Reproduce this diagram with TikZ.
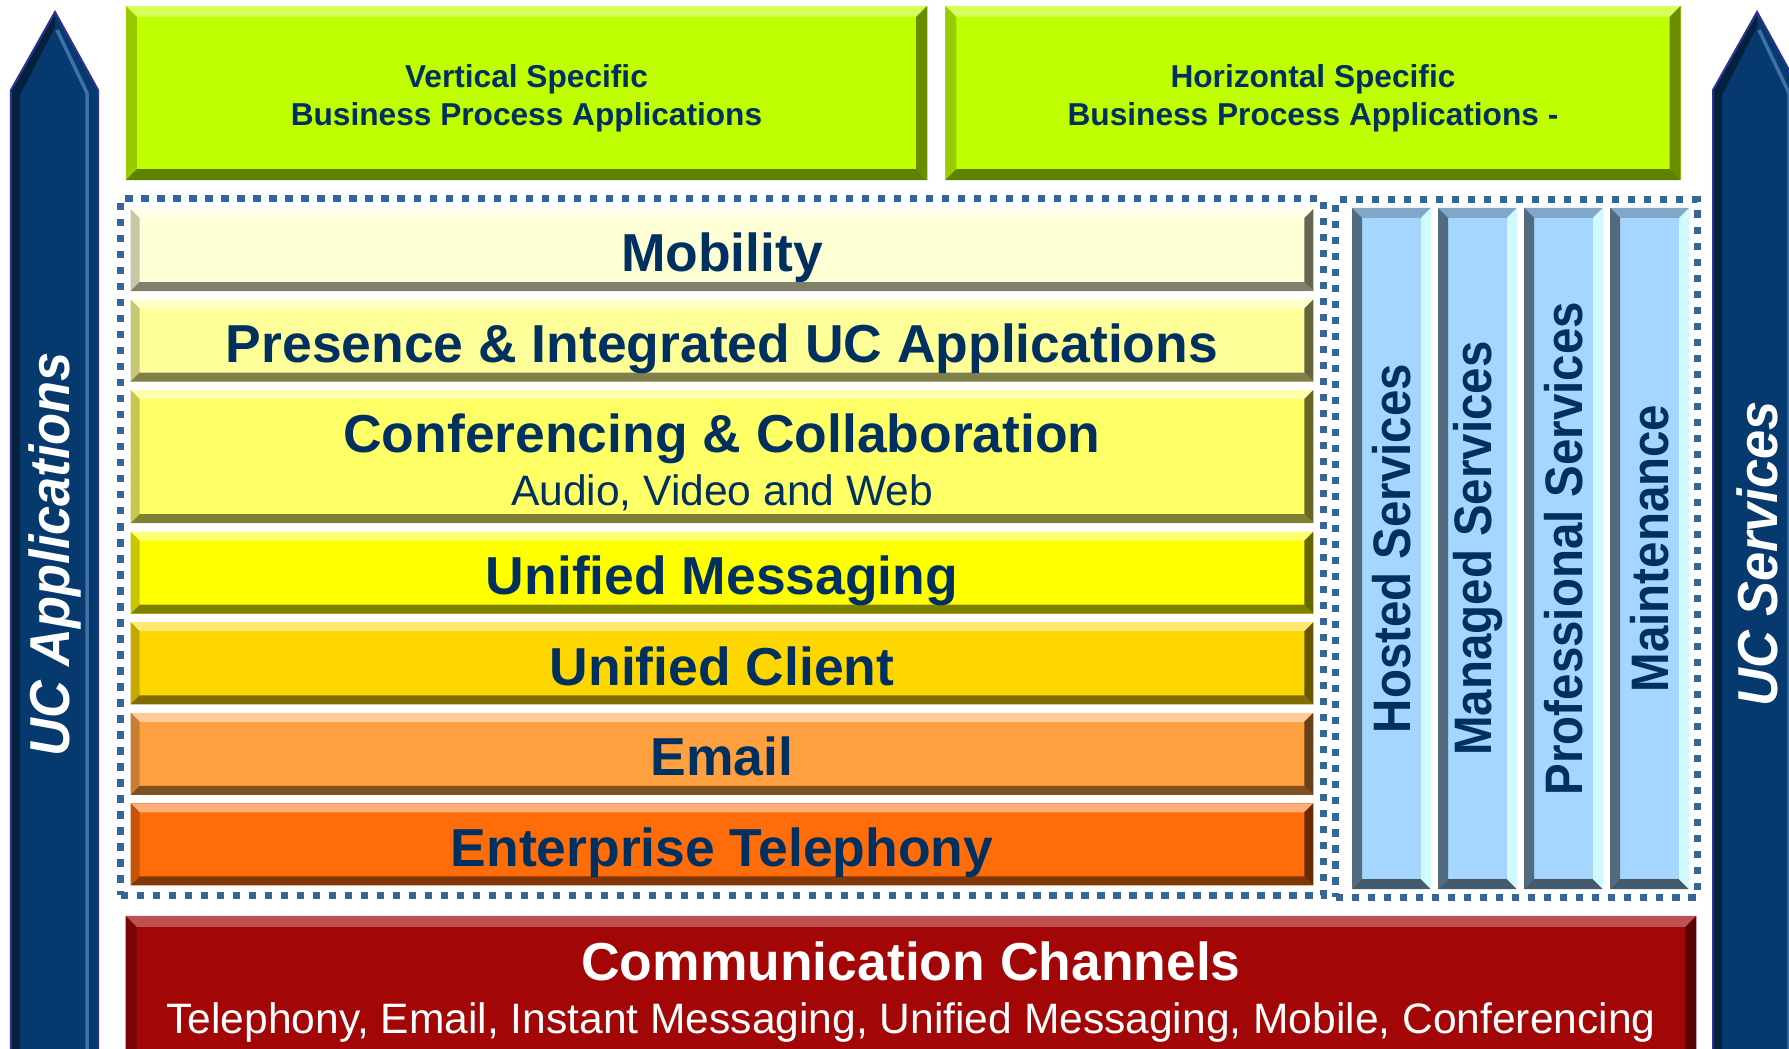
\documentclass[tikz,border=0pt]{standalone}
\usepackage{fontspec}
\setmainfont{Liberation Sans}
\usetikzlibrary{positioning,fit}

\definecolor{navy}{RGB}{0,48,96}
\definecolor{limegreen}{RGB}{191,255,0}
\definecolor{mobcol}{RGB}{255,255,213}
\definecolor{prescol}{RGB}{255,255,153}
\definecolor{confcol}{RGB}{255,255,102}
\definecolor{umcol}{RGB}{255,255,0}
\definecolor{clientcol}{RGB}{255,215,0}
\definecolor{mailcol}{RGB}{255,160,64}
\definecolor{telcol}{RGB}{255,108,10}
\definecolor{svcblue}{RGB}{164,214,255}
\definecolor{svclight}{RGB}{208,250,255}
\definecolor{chanred}{RGB}{163,6,6}
\definecolor{arrowblue}{RGB}{6,58,110}
\definecolor{arrowedge}{RGB}{46,49,146}
\definecolor{arrowlight}{RGB}{64,112,168}
\definecolor{dotblue}{RGB}{51,102,153}

% bevel: width, top, left, bottom, right
\newcommand\bevelsides[5]{%
  \fill[#2] (path picture bounding box.north west) -- (path picture bounding box.north east)
    -- ([shift={(-#1,-#1)}]path picture bounding box.north east)
    -- ([shift={(#1,-#1)}]path picture bounding box.north west) -- cycle;
  \fill[#3] (path picture bounding box.north west) -- (path picture bounding box.south west)
    -- ([shift={(#1,#1)}]path picture bounding box.south west)
    -- ([shift={(#1,-#1)}]path picture bounding box.north west) -- cycle;
  \fill[#4] (path picture bounding box.south west) -- (path picture bounding box.south east)
    -- ([shift={(-#1,#1)}]path picture bounding box.south east)
    -- ([shift={(#1,#1)}]path picture bounding box.south west) -- cycle;
  \fill[#5] (path picture bounding box.north east) -- (path picture bounding box.south east)
    -- ([shift={(-#1,#1)}]path picture bounding box.south east)
    -- ([shift={(-#1,-#1)}]path picture bounding box.north east) -- cycle;
}

\tikzset{
  layerbase/.style={
      rectangle, fill=#1, inner sep=0pt, outer sep=0pt,
      minimum width=11.82cm, minimum height=0.82cm,
      text=navy, font=\fontsize{15.2}{15.2}\selectfont\bfseries,
      path picture={\bevelsides{0.09cm}{#1!55!white}{#1!78!black}{#1!50!black}{#1!40!black}}
    },
  layer/.style={layerbase=#1, text height=13pt, text depth=0.5pt},
  layertwo/.style={layerbase=#1, align=center,
      font=\fontsize{12.1}{15.2}\selectfont},
  procbox/.style={
      rectangle, fill=limegreen, inner sep=0pt, outer sep=0pt,
      minimum height=1.74cm, align=center,
      text=navy, font=\fontsize{9}{10.8}\selectfont\bfseries,
      path picture={\bevelsides{0.11cm}{limegreen!65!white}{limegreen!80!black}{limegreen!50!black}{limegreen!55!black}}
    },
  svc/.style={
      rectangle, fill=svcblue, inner sep=0pt, outer sep=0pt,
      minimum width=0.79cm, minimum height=6.81cm,
      text=navy, font=\fontsize{15}{15}\selectfont\bfseries,
      path picture={\bevelsides{0.1cm}{svcblue!78!black}{svcblue!50!black}{svcblue!42!black}{svclight}}
    },
  channel/.style={
      rectangle, fill=chanred, inner sep=0pt, outer sep=0pt,
      minimum width=15.7cm, minimum height=1.5cm, align=center,
      text=white, font=\fontsize{12.1}{15.2}\selectfont,
      path picture={\bevelsides{0.11cm}{chanred!70!white}{chanred!75!black}{chanred!50!black}{chanred!55!black}}
    },
  dotframe/.style={
      draw=dotblue, line width=0.07cm, dash pattern=on 0.073cm off 0.087cm,
      inner sep=0.1cm
    },
  arrowtext/.style={
      text=white, font=\fontsize{16}{16}\selectfont\bfseries\itshape, rotate=90
    },
  sidearrow/.pic={
      \filldraw[fill=arrowblue, draw=arrowedge, line width=0.02cm]
      (11,1060) -- (11,90) -- (55,12) -- (98,90) -- (98,1060) -- cycle;
      \fill[arrowblue!55!black]
      (12,1060) -- (12,91) -- (55,15) -- (55,27) -- (20,95) -- (20,1060) -- cycle;
      \draw[arrowlight, line width=0.035cm] (57,30) -- (87,93) -- (87,1060);
      \node[arrowtext] (-txt) at (55,554) {\scalebox{0.93}[1]{#1}};
    }
}

\begin{document}
\begin{tikzpicture}[x=0.01cm, y=-0.01cm]
\useasboundingbox (0,0) rectangle (1789,1048);
\clip (0,0) rectangle (1789,1048);

% side arrows
\path
  (0,0) pic (ucapps) {sidearrow=UC Applications}
  (1702,0) pic (ucsvc) {sidearrow=UC Services};

% business process boxes
\node[procbox, minimum width=8.01cm] at (526.5,93) (vertical)
  {\rule{0pt}{9.4pt}Vertical Specific\\Business Process Applications};
\node[procbox, minimum width=7.35cm, right=0.18cm of vertical] (horizontal)
  {\rule{0pt}{9.4pt}Horizontal Specific\\Business Process Applications -};

% UC layers
\node[layer=mobcol] at (722,250) (mobility) {Mobility};
\node[layer=prescol, below=0.085cm of mobility] (presence)
  {Presence \& Integrated UC Applications};
\node[layertwo=confcol, minimum height=1.33cm, below=0.085cm of presence] (conferencing)
  {{\fontsize{15.2}{15.2}\selectfont\bfseries\rule{0pt}{14.6pt}Conferencing \& Collaboration}\\
   Audio, Video and Web\rule[-2pt]{0pt}{2pt}};
\node[layer=umcol, below=0.085cm of conferencing] (messaging) {Unified Messaging};
\node[layer=clientcol, below=0.085cm of messaging] (client) {Unified Client};
\node[layer=mailcol, below=0.085cm of client] (email) {Email};
\node[layer=telcol, below=0.085cm of email] (telephony) {Enterprise Telephony};
\node[dotframe, fit={(mobility) (telephony)}] (layerframe) {};

% services
\node[svc] at (1391.5,548.5) (hosted)
  {\rotatebox{90}{\scalebox{0.9}[1]{Hosted Services}}};
\node[svc, right=0.07cm of hosted] (managed)
  {\rotatebox{90}{\scalebox{0.9}[1]{Managed Services}}};
\node[svc, right=0.07cm of managed] (professional)
  {\rotatebox{90}{\scalebox{0.9}[1]{Professional Services}}};
\node[svc, right=0.07cm of professional] (maintenance)
  {\rotatebox{90}{\scalebox{0.9}[1]{Maintenance}}};
\path ([xshift=-0.08cm]hosted.west) coordinate (svcaux);
\node[dotframe, inner sep=0.08cm, fit={(svcaux) (hosted) (maintenance)}] (svcframe) {};

% channels
\node[channel] at (911,991) (channels)
  {{\fontsize{15.2}{15.2}\selectfont\bfseries\rule{0pt}{11.94pt}Communication Channels}\\
   Telephony, Email, Instant Messaging, Unified Messaging, Mobile, Conferencing\rule[-3pt]{0pt}{3pt}};
\end{tikzpicture}
\end{document}
